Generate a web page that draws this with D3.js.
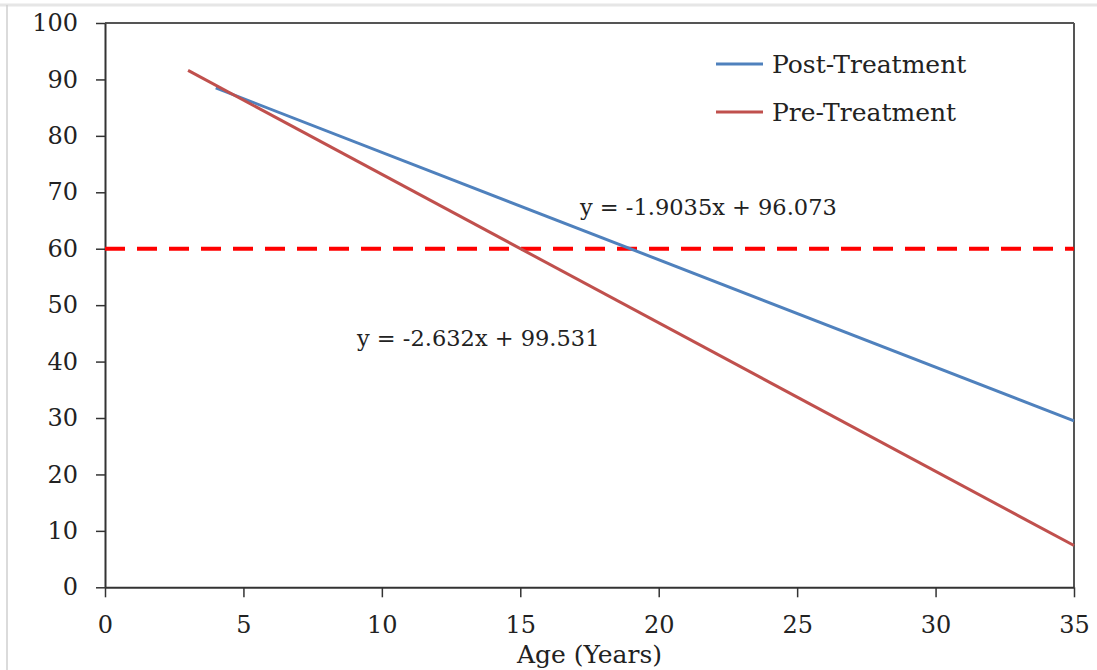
<!DOCTYPE html>
<html><head><meta charset="utf-8">
<script src="https://cdn.jsdelivr.net/npm/d3@7"></script>
<style>
html,body{margin:0;padding:0;background:#fff;}
svg{display:block;}
text{font-family:"DejaVu Serif",serif;fill:#222;}
</style></head>
<body>
<svg id="chart" width="1097" height="670"></svg>
<script>
// Data
const postAge = [4, 35];
const postValue = [88.5, 29.5];
const preAge = [3, 35];
const preValue = [91.6, 7.4];
const threshold = [60];
const xTicks = [0, 5, 10, 15, 20, 25, 30, 35];
const yTicks = [0, 10, 20, 30, 40, 50, 60, 70, 80, 90, 100];
const seriesNames = ["Post-Treatment", "Pre-Treatment"];
const equations = ["y = -1.9035x + 96.073", "y = -2.632x + 99.531"];

const svg = d3.select("#chart");
const W = 1097, H = 670;
const m = {left: 105, right: 1074, top: 23, bottom: 587.3};

// outer frame (light gray)
svg.append("line").attr("x1",0).attr("x2",W).attr("y1",5).attr("y2",5)
  .attr("stroke","#e6e6e6").attr("stroke-width",3);
svg.append("line").attr("x1",7).attr("x2",7).attr("y1",5).attr("y2",H)
  .attr("stroke","#cfcfcf").attr("stroke-width",1.5);

const x = d3.scaleLinear().domain([0,35]).range([m.left, m.right]);
const y = d3.scaleLinear().domain([0,100]).range([m.bottom, m.top]);

// plot border top & right
svg.append("line").attr("x1",m.left).attr("x2",m.right).attr("y1",m.top).attr("y2",m.top)
  .attr("stroke","#555").attr("stroke-width",2);
svg.append("line").attr("x1",m.right).attr("x2",m.right).attr("y1",m.top).attr("y2",m.bottom)
  .attr("stroke","#555").attr("stroke-width",2);

const tickFont = 24;
// axes
const xAxis = d3.axisBottom(x).tickValues(xTicks).tickSize(10).tickPadding(19).tickSizeOuter(0);
const gx = svg.append("g").attr("transform",`translate(0,${m.bottom})`).call(xAxis);
gx.select(".domain").attr("stroke","#333").attr("stroke-width",2);
gx.selectAll(".tick line").attr("stroke","#333").attr("stroke-width",1.5);
gx.selectAll(".tick text").attr("font-size",tickFont).attr("font-family","DejaVu Serif").attr("fill","#222");

const yAxis = d3.axisLeft(y).tickValues(yTicks).tickSize(9).tickPadding(18).tickSizeOuter(0);
const gy = svg.append("g").attr("transform",`translate(${m.left},0)`).call(yAxis);
gy.select(".domain").attr("stroke","#333").attr("stroke-width",2);
gy.selectAll(".tick line").attr("stroke","#333").attr("stroke-width",1.5);
gy.selectAll(".tick text").attr("font-size",tickFont).attr("font-family","DejaVu Serif").attr("fill","#222");

// axis title
svg.append("text").attr("x",(m.left+m.right)/2).attr("y",663)
  .attr("text-anchor","middle").attr("font-size",25).text("Age (Years)");

// threshold dashed line
svg.append("line").attr("x1",m.left).attr("x2",m.right)
  .attr("y1",y(threshold[0])).attr("y2",y(threshold[0]))
  .attr("stroke","#ff0000").attr("stroke-width",4).attr("stroke-dasharray","20,12");

const line = d3.line().x(d=>x(d[0])).y(d=>y(d[1]));
const colors = ["#4f81bd", "#c0504d"];
const series = [
  d3.zip(postAge, postValue),
  d3.zip(preAge, preValue)
];
svg.append("path").datum(series[0]).attr("d",line).attr("fill","none")
  .attr("stroke",colors[0]).attr("stroke-width",3);
svg.append("path").datum(series[1]).attr("d",line).attr("fill","none")
  .attr("stroke",colors[1]).attr("stroke-width",3);

// equations
svg.append("text").attr("x",580).attr("y",215).attr("font-size",22.5).text(equations[0]);
svg.append("text").attr("x",357).attr("y",346).attr("font-size",22.5).text(equations[1]);

// legend
const legY = [64, 112];
seriesNames.forEach((n,i)=>{
  svg.append("line").attr("x1",716).attr("x2",763).attr("y1",legY[i]).attr("y2",legY[i])
    .attr("stroke",colors[i]).attr("stroke-width",3);
  svg.append("text").attr("x",772).attr("y",legY[i]+9).attr("font-size",25).text(n);
});
</script>
</body></html>
